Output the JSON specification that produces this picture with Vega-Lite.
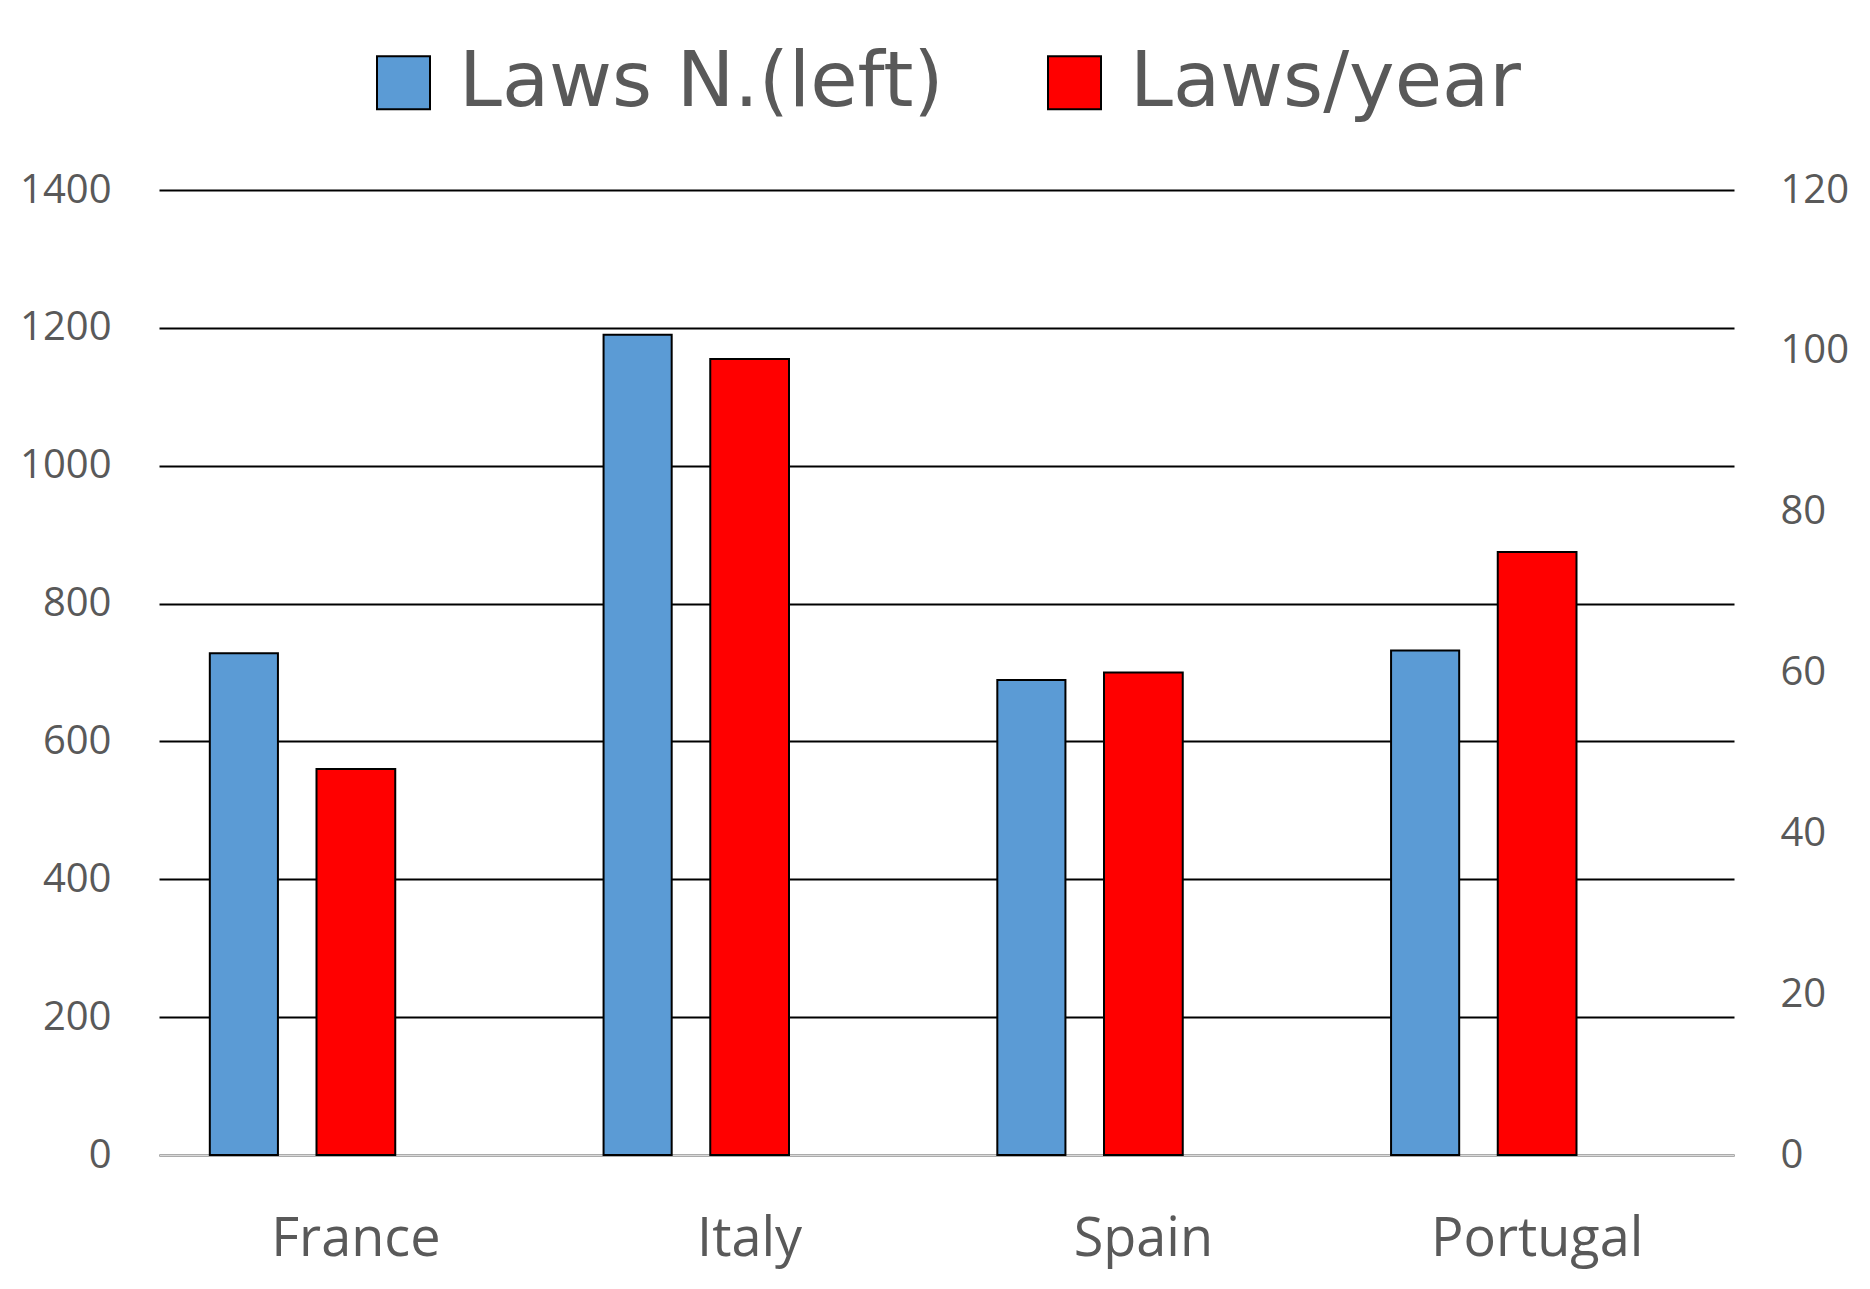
{
  "$schema": "https://vega.github.io/schema/vega-lite/v6.json",
  "width": 1575,
  "height": 965,
  "autosize": {"type": "none"},
  "padding": {"left": 159, "top": 190, "right": 136, "bottom": 134},
  "background": "white",
  "data": {
    "values": [
      {"country": "France", "series": "Laws N.(left)", "value": 728},
      {"country": "Italy", "series": "Laws N.(left)", "value": 1190},
      {"country": "Spain", "series": "Laws N.(left)", "value": 689},
      {"country": "Portugal", "series": "Laws N.(left)", "value": 732},
      {"country": "France", "series": "Laws/year", "value": 48},
      {"country": "Italy", "series": "Laws/year", "value": 99},
      {"country": "Spain", "series": "Laws/year", "value": 60},
      {"country": "Portugal", "series": "Laws/year", "value": 75}
    ]
  },
  "encoding": {
    "x": {
      "field": "country",
      "type": "nominal",
      "sort": ["France", "Italy", "Spain", "Portugal"],
      "scale": {"paddingInner": 0, "paddingOuter": 0},
      "axis": {
        "title": null,
        "labelAngle": 0,
        "labelFontSize": 54,
        "labelFont": "Open Sans",
        "labelColor": "#595959",
        "labelPadding": 57,
        "labelLimit": 1000,
        "ticks": false,
        "domainColor": "#D9D9D9",
        "domainWidth": 2,
        "grid": false
      }
    },
    "color": {
      "field": "series",
      "type": "nominal",
      "scale": {"domain": ["Laws N.(left)", "Laws/year"], "range": ["#5B9BD5", "#FF0000"]},
      "legend": {
        "title": null,
        "orient": "none",
        "legendX": 206,
        "legendY": -146,
        "direction": "horizontal",
        "symbolType": "square",
        "symbolSize": 2809,
        "symbolStrokeColor": "black",
        "symbolStrokeWidth": 2,
        "symbolOpacity": 1,
        "labelFontSize": 77,
        "labelFont": "DejaVu Sans",
        "labelColor": "#595959",
        "labelOffset": 17,
        "columnPadding": 92,
        "labelLimit": 1000
      }
    }
  },
  "layer": [
    {
      "transform": [{"filter": "datum.series === 'Laws N.(left)'"}],
      "mark": {"type": "bar", "width": {"band": 0.173}, "xOffset": -112, "stroke": "black", "strokeWidth": 2},
      "encoding": {
        "y": {
          "field": "value",
          "type": "quantitative",
          "scale": {"domain": [0, 1400]},
          "axis": {
            "title": null,
            "orient": "left",
            "values": [0, 200, 400, 600, 800, 1000, 1200, 1400],
            "format": "d",
            "labelFontSize": 40,
            "labelFont": "Open Sans",
            "labelColor": "#595959",
            "labelPadding": 48,
            "ticks": false,
            "domain": false,
            "grid": true,
            "gridColor": "black",
            "gridWidth": 2,
            "gridOpacity": 1
          }
        }
      }
    },
    {
      "transform": [{"filter": "datum.series === 'Laws/year'"}],
      "mark": {"type": "bar", "width": {"band": 0.2}, "stroke": "black", "strokeWidth": 2},
      "encoding": {
        "y": {
          "field": "value",
          "type": "quantitative",
          "scale": {"domain": [0, 120]},
          "axis": {
            "title": null,
            "orient": "right",
            "values": [0, 20, 40, 60, 80, 100, 120],
            "format": "d",
            "labelFontSize": 40,
            "labelFont": "Open Sans",
            "labelColor": "#595959",
            "labelPadding": 46,
            "ticks": false,
            "domain": false,
            "grid": false
          }
        }
      }
    }
  ],
  "resolve": {"scale": {"y": "independent"}},
  "config": {"view": {"stroke": null}}
}
